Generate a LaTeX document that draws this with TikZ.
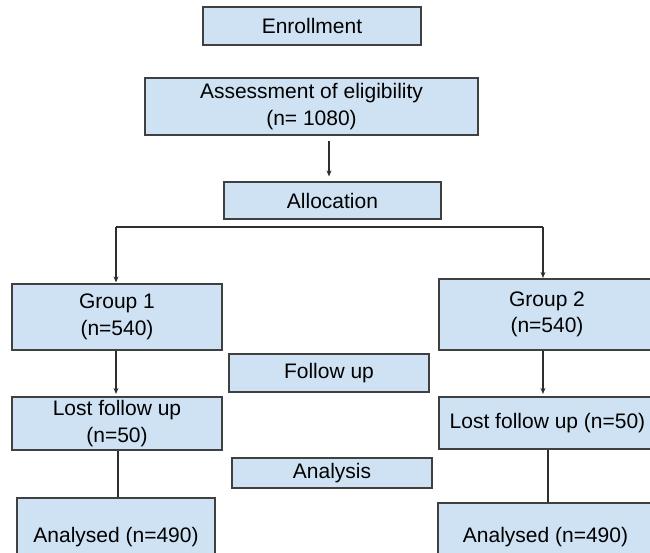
\documentclass[tikz,border=0pt]{standalone}
\usepackage{fontspec}
\setmainfont{Liberation Sans}
\usetikzlibrary{arrows.meta}
\definecolor{boxfill}{HTML}{CFE2F3}
\definecolor{boxline}{HTML}{404040}
\definecolor{lnk}{HTML}{2E2E2E}
\begin{document}
\begin{tikzpicture}[x=1pt,y=-1pt,
  box/.style={draw=boxline, fill=boxfill, line width=1.2pt, inner sep=0pt,
    align=center, text=black, font=\fontsize{21}{26.5}\selectfont},
  lnkline/.style={draw=lnk, line width=1.1pt},
  arr/.style={lnkline, -{Stealth[length=6pt,width=5pt]}}]
\clip (0,0) rectangle (650,552);
\fill[white] (0,0) rectangle (650,552);
% boxes
\node[box, minimum width=218pt, minimum height=38pt] (enr) at (312,26) {Enrollment};
\node[box, minimum width=333pt, minimum height=57pt] (ass) at (311.5,106.5) {Assessment of eligibility\\(n= 1080)};
\node[box, minimum width=217pt, minimum height=37pt] (all) at (332.5,200.5) {Allocation};
\node[box, minimum width=210pt, minimum height=66pt] (g1) at (117,317) {Group 1\\(n=540)};
\node[box, minimum width=216pt, minimum height=71pt] (g2) at (547,314.5) {Group 2\\(n=540)};
\node[box, minimum width=200pt, minimum height=38pt] (fu) at (329,373) {Follow up};
\node[box, minimum width=210pt, minimum height=53pt] (l1) at (117,423.5) {Lost follow up\\(n=50)};
\node[box, minimum width=217pt, minimum height=52pt] (l2) at (547.5,423) {Lost follow up (n=50)};
\node[box, minimum width=200pt, minimum height=30pt] (an) at (332,473) {Analysis};
\node[box, minimum width=198pt, minimum height=78pt] (a1) at (116,537) {Analysed (n=490)};
\node[box, minimum width=215pt, minimum height=68pt] (a2) at (545.5,537) {Analysed (n=490)};
% connectors
\draw[arr, shorten <=5pt, shorten >=5pt] ([xshift=-3.5pt]all.north |- ass.south) -- ([xshift=-3.5pt]all.north);
\coordinate (brL) at (116,227);
\coordinate (brR) at (543,227);
\draw[lnkline] (brL) -- (brR);
\draw[arr, shorten >=1pt] (brL) -- (brL |- g1.north);
\draw[arr, shorten >=0.5pt] (brR) -- (brR |- g2.north);
\draw[arr, shorten >=2.5pt] (brL |- g1.south) -- (brL |- l1.north);
\draw[arr, shorten >=2.5pt] (brR |- g2.south) -- (brR |- l2.north);
\draw[lnkline] ([xshift=1pt]l1.south) -- ([xshift=1pt]l1.south |- a1.north);
\draw[lnkline] ([xshift=0.5pt]l2.south) -- ([xshift=0.5pt]l2.south |- a2.north);
\end{tikzpicture}
\end{document}
